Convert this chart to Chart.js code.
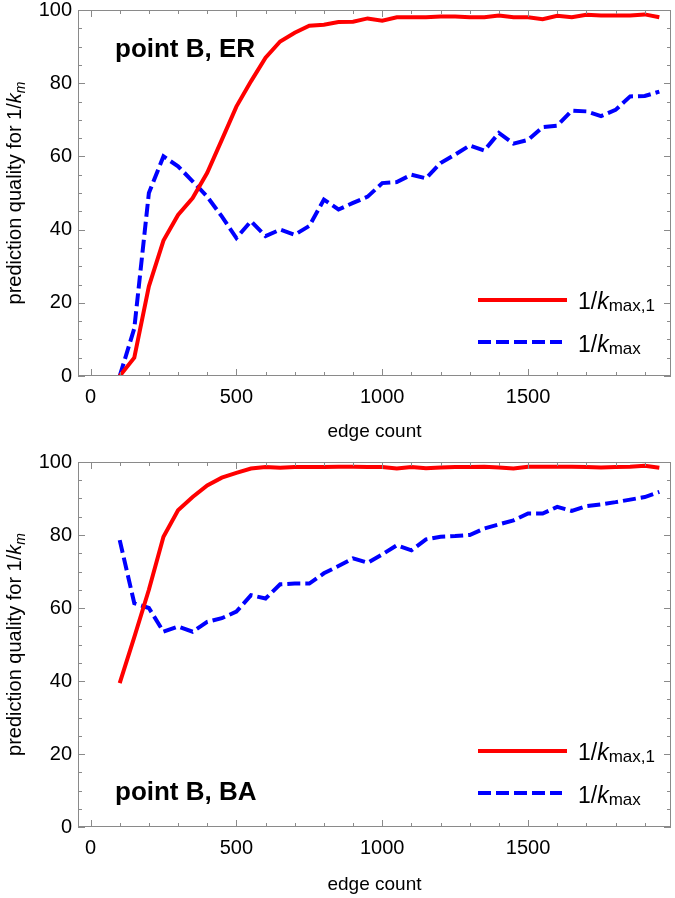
<!DOCTYPE html>
<html>
<head>
<meta charset="utf-8">
<script src="https://cdn.jsdelivr.net/npm/chart.js@4/dist/chart.umd.min.js"></script>
<style>
  body { margin: 0; background: #fff; }
  .box { position: relative; width: 675px; }
  canvas { display: block; }
</style>
</head>
<body>
<div class="box"><canvas id="chartER" width="675" height="449"></canvas></div>
<div class="box"><canvas id="chartBA" width="675" height="449"></canvas></div>
<script>
const FONT = '"Liberation Sans", Arial, Helvetica, sans-serif';

// edge counts (x)
const edgeCounts = [100, 150, 200, 250, 300, 350, 400, 450, 500, 550,
  600, 650, 700, 750, 800, 850, 900, 950, 1000, 1050,
  1100, 1150, 1200, 1250, 1300, 1350, 1400, 1450, 1500, 1550,
  1600, 1650, 1700, 1750, 1800, 1850, 1900, 1950];

// point B, ER
const erKmax1 = [0, 5, 24.5, 37, 44, 48.6, 55.5, 64.5, 73.6, 80.5,
  87, 91.4, 93.8, 95.7, 96, 96.7, 96.8, 97.7, 97.1, 98,
  98, 98, 98.2, 98.2, 98, 98, 98.5, 98, 98, 97.5,
  98.4, 98, 98.7, 98.5, 98.5, 98.5, 98.8, 98];
const erKmax = [0, 13, 50, 60, 57.3, 53.2, 49, 43.6, 37.7, 42.3,
  38.2, 40, 38.6, 41, 48.2, 45.5, 47.3, 49, 52.7, 53,
  55, 54, 58.2, 60.5, 63, 61.6, 66.4, 63.5, 64.5, 68,
  68.4, 72.5, 72.3, 71, 72.7, 76.4, 76.5, 77.7];

// point B, BA
const baKmax1 = [39.4, 52, 65, 79.5, 86.8, 90.4, 93.6, 95.7, 97, 98.2,
  98.6, 98.4, 98.6, 98.6, 98.6, 98.7, 98.7, 98.6, 98.6, 98.2,
  98.6, 98.3, 98.5, 98.6, 98.6, 98.7, 98.5, 98.2, 98.7, 98.7,
  98.7, 98.7, 98.6, 98.5, 98.6, 98.7, 99, 98.4];
const baKmax = [78.6, 61.3, 60, 53.5, 54.9, 53.5, 56.2, 57.2, 59, 63.5,
  62.6, 66.5, 66.7, 66.7, 69.5, 71.5, 73.6, 72.4, 74.7, 77.2,
  75.8, 78.8, 79.5, 79.7, 80, 81.8, 82.9, 84, 85.9, 85.9,
  87.7, 86.6, 87.9, 88.4, 89, 89.7, 90.4, 91.8];

const xTickLabels = [0, 500, 1000, 1500];
const yTickLabels = [0, 20, 40, 60, 80, 100];

function toPoints(xs, ys) {
  return xs.map((x, i) => ({ x: x, y: ys[i] }));
}

// draws text pieces left to right: [text, font, dy]
function drawRich(ctx, parts, x, y) {
  parts.forEach(p => {
    ctx.font = p[1];
    ctx.fillText(p[0], x, y + (p[2] || 0));
    x += ctx.measureText(p[0]).width;
  });
  return x;
}

function richWidth(ctx, parts) {
  let w = 0;
  parts.forEach(p => { ctx.font = p[1]; w += ctx.measureText(p[0]).width; });
  return w;
}

// frame, inward ticks, y title, legend and panel label
const decorPlugin = {
  id: 'decor',
  afterDraw(chart, args, opts) {
    const ctx = chart.ctx;
    const a = chart.chartArea;
    const xs = chart.scales.x, ys = chart.scales.y;
    ctx.save();
    ctx.strokeStyle = '#8a8a8a';
    ctx.lineWidth = 1;
    ctx.strokeRect(a.left + 0.5, a.top + 0.5, a.right - a.left - 1, a.bottom - a.top - 1);
    ctx.beginPath();
    for (let v = 0; v <= 1900; v += 100) {
      const px = Math.round(xs.getPixelForValue(v)) + 0.5;
      const len = v % 500 === 0 ? 7 : 4;
      ctx.moveTo(px, a.bottom); ctx.lineTo(px, a.bottom - len);
      ctx.moveTo(px, a.top); ctx.lineTo(px, a.top + len);
    }
    for (let v = 0; v <= 100; v += 5) {
      const py = Math.round(ys.getPixelForValue(v)) + 0.5;
      const len = v % 20 === 0 ? 7 : 4;
      ctx.moveTo(a.left, py); ctx.lineTo(a.left + len, py);
      ctx.moveTo(a.right, py); ctx.lineTo(a.right - len, py);
    }
    ctx.stroke();

    ctx.fillStyle = '#000';
    ctx.textBaseline = 'alphabetic';

    // y title
    const titleParts = [
      ['prediction quality for 1/', '20px ' + FONT, 0],
      ['k', 'italic 20px ' + FONT, 0],
      ['m', 'italic 14px ' + FONT, 4]
    ];
    const tw = richWidth(ctx, titleParts);
    ctx.save();
    ctx.translate(21, (a.top + a.bottom) / 2);
    ctx.rotate(-Math.PI / 2);
    drawRich(ctx, titleParts, -tw / 2, 0);
    ctx.restore();

    // panel label
    ctx.font = 'bold 26px ' + FONT;
    ctx.fillText(opts.label, 115, opts.labelY);

    // legend
    ctx.lineWidth = 4;
    ctx.strokeStyle = 'rgb(255,0,0)';
    ctx.beginPath();
    ctx.moveTo(478, opts.legendY[0]); ctx.lineTo(567, opts.legendY[0]);
    ctx.stroke();
    ctx.strokeStyle = 'rgb(0,0,255)';
    ctx.setLineDash([13, 5]);
    ctx.beginPath();
    ctx.moveTo(478, opts.legendY[1]); ctx.lineTo(562, opts.legendY[1]);
    ctx.stroke();
    ctx.setLineDash([]);
    const big = '23px ' + FONT, bigI = 'italic 23px ' + FONT, sub = '17px ' + FONT;
    drawRich(ctx, [['1/', big, 0], ['k', bigI, 0], ['max,1', sub, 2]], 578, opts.legendY[0] + 9);
    drawRich(ctx, [['1/', big, 0], ['k', bigI, 0], ['max', sub, 2]], 578, opts.legendY[1] + 10);
    ctx.restore();
  }
};

function noOverflow(s) {
  s.paddingTop = 0;
  s.paddingBottom = 0;
  s.paddingLeft = 0;
  s.paddingRight = 0;
}

function buildChart(id, redVals, blueVals, padTop, axisH, titlePad, decor) {
  const ctx = document.getElementById(id).getContext('2d');
  return new Chart(ctx, {
    type: 'line',
    data: {
      datasets: [{
        label: '1/kmax,1',
        data: toPoints(edgeCounts, redVals),
        borderColor: 'rgb(255,0,0)',
        borderWidth: 4,
        pointRadius: 0,
        tension: 0,
        fill: false
      }, {
        label: '1/kmax',
        data: toPoints(edgeCounts, blueVals),
        borderColor: 'rgb(0,0,255)',
        borderWidth: 4,
        borderDash: [13, 5],
        pointRadius: 0,
        tension: 0,
        fill: false
      }]
    },
    options: {
      responsive: false,
      animation: false,
      layout: { padding: { left: 0, right: 4, top: padTop, bottom: 0 } },
      plugins: {
        legend: { display: false },
        tooltip: { enabled: false },
        decor: decor
      },
      scales: {
        x: {
          type: 'linear',
          min: -43,
          max: 1990,
          grid: { display: false, drawTicks: false },
          border: { display: false },
          afterBuildTicks: s => { s.ticks = xTickLabels.map(v => ({ value: v })); },
          afterFit: s => { s.height = axisH; noOverflow(s); },
          ticks: {
            autoSkip: false,
            padding: 9,
            color: '#000',
            font: { family: FONT, size: 20 },
            maxRotation: 0,
            callback: v => String(v)
          },
          title: {
            display: true,
            text: 'edge count',
            color: '#000',
            font: { family: FONT, size: 19 },
            padding: { top: 0, bottom: titlePad }
          }
        },
        y: {
          min: 0,
          max: 100,
          grid: { display: false, drawTicks: false },
          border: { display: false },
          afterBuildTicks: s => { s.ticks = yTickLabels.map(v => ({ value: v })); },
          afterFit: s => { s.width = 78; noOverflow(s); },
          ticks: {
            autoSkip: false,
            padding: 6,
            color: '#000',
            font: { family: FONT, size: 20 },
            callback: v => String(v)
          }
        }
      }
    },
    plugins: [decorPlugin]
  });
}

buildChart('chartER', erKmax1, erKmax, 10, 73, 6,
  { label: 'point B, ER', labelY: 57, legendY: [300, 342] });
buildChart('chartBA', baKmax1, baKmax, 13, 71, 2,
  { label: 'point B, BA', labelY: 351, legendY: [302, 344] });
</script>
</body>
</html>
